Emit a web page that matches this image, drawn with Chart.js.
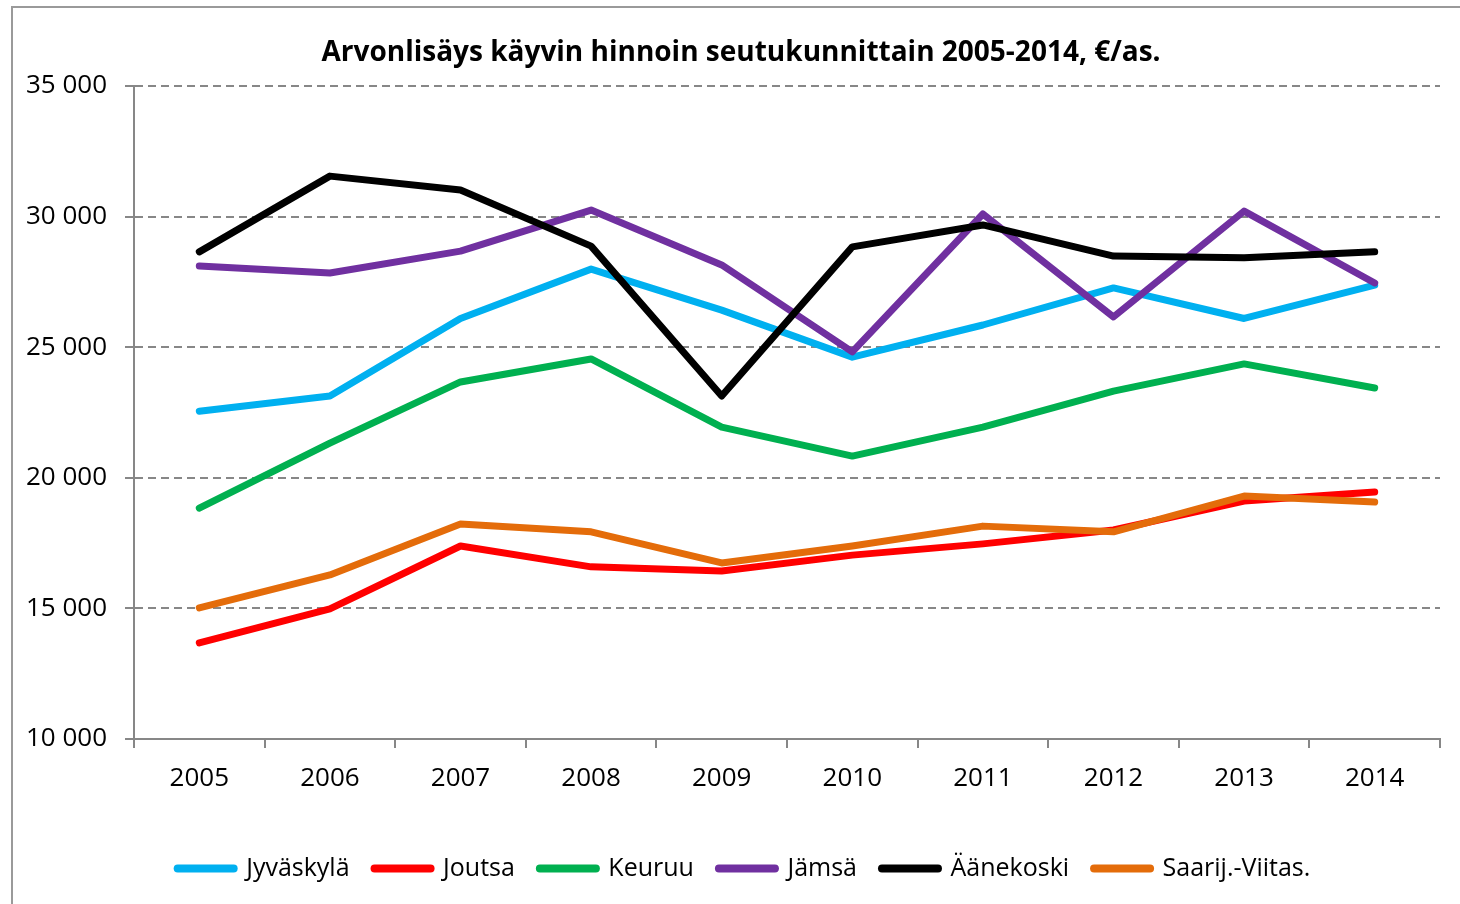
<!DOCTYPE html>
<html>
<head>
<meta charset="utf-8">
<script src="https://cdn.jsdelivr.net/npm/chart.js@4"></script>
<style>
  html, body { margin: 0; padding: 0; background: #fff; }
  #wrap { position: relative; width: 1460px; height: 904px; overflow: hidden; }
  #frame { position: absolute; left: 11px; top: 6px; width: 1500px; height: 950px;
           border-left: 2px solid #9a9a9a; border-top: 2px solid #9a9a9a; }
  canvas { position: absolute; left: 0; top: 0; }
</style>
</head>
<body>
<div id="wrap">
  <div id="frame"></div>
  <canvas id="chart_div" width="1460" height="904"></canvas>
</div>
<script>
// vuodet ja seutukuntien arvot (€/as.)
const vuodet = ['2005','2006','2007','2008','2009','2010','2011','2012','2013','2014'];
const jyvaskyla = [22550, 23130, 26100, 27990, 26420, 24620, 25850, 27270, 26100, 27380];
const joutsa    = [13680, 14980, 17390, 16590, 16430, 17040, 17470, 18000, 19110, 19460];
const keuruu    = [18840, 21330, 23670, 24550, 21940, 20830, 21940, 23320, 24360, 23440];
const jamsa     = [28110, 27840, 28680, 30250, 28150, 24820, 30100, 26160, 30210, 27460];
const aanekoski = [28650, 31550, 31020, 28870, 23130, 28840, 29680, 28490, 28420, 28650];
const saarij    = [15020, 16280, 18230, 17930, 16740, 17390, 18150, 17930, 19300, 19070];
const yTicks = [10000, 15000, 20000, 25000, 30000, 35000];

const sarjat = [
  ['Jyväskylä', jyvaskyla, '#00b0f0'],
  ['Joutsa', joutsa, '#ff0000'],
  ['Keuruu', keuruu, '#00b050'],
  ['Jämsä', jamsa, '#7030a0'],
  ['Äänekoski', aanekoski, '#000000'],
  ['Saarij.-Viitas.', saarij, '#e46c0a']
];

const fontti = '"Open Sans", sans-serif';
const harmaa = '#878787';

// excel piirtaa viimeisen sarjan paalle, joten order kaannetaan
const datasets = sarjat.map(function(s, i){
  return {
    label: s[0], data: s[1], borderColor: s[2], backgroundColor: s[2],
    borderWidth: 7, pointRadius: 0, tension: 0,
    borderCapStyle: 'round', borderJoinStyle: 'round',
    order: sarjat.length - i
  };
});

function muotoile(v){
  return String(v).replace(/\B(?=(\d{3})+(?!\d))/g, ' ');
}

// otsikko ja selite hieman oikealle, kuten alkuperaisessa kuvassa
const siirto = {
  id: 'siirto',
  afterLayout: function(chart){
    if (chart.legend) { chart.legend.left += 24; chart.legend.right += 24; }
    if (chart.titleBlock) { chart.titleBlock.left += 21; chart.titleBlock.right += 21; }
  }
};

new Chart(document.getElementById('chart_div'), {
  type: 'line',
  data: { labels: vuodet, datasets: datasets },
  plugins: [siirto],
  options: {
    responsive: false,
    animation: false,
    layout: { padding: { left: 0, right: 20, top: 0, bottom: 13 } },
    plugins: {
      tooltip: { enabled: false },
      title: {
        display: true,
        text: 'Arvonlisäys käyvin hinnoin seutukunnittain 2005-2014, €/as.',
        color: '#000',
        font: { family: fontti, size: 28, weight: 'bold' },
        padding: { top: 36, bottom: 16.4 }
      },
      legend: {
        position: 'bottom',
        labels: {
          usePointStyle: true,
          pointStyle: 'line',
          pointStyleWidth: 56,
          color: '#000',
          font: { family: fontti, size: 25 },
          padding: 25,
          sort: function(a, b){ return a.datasetIndex - b.datasetIndex; },
          generateLabels: function(chart){
            const items = Chart.defaults.plugins.legend.labels.generateLabels(chart);
            items.forEach(function(it){ it.lineWidth = 8; it.lineCap = 'round'; });
            return items;
          }
        }
      }
    },
    scales: {
      x: {
        offset: true,
        afterFit: function(scale){ scale.height = 92; },
        grid: { offset: true, drawOnChartArea: false, drawTicks: true, tickLength: 9,
                color: harmaa, lineWidth: 2 },
        border: { color: harmaa, width: 2 },
        ticks: { color: '#000', font: { family: fontti, size: 26 }, padding: 15, maxRotation: 0 }
      },
      y: {
        min: 10000, max: 35000,
        afterFit: function(scale){ scale.width = 134; },
        afterBuildTicks: function(scale){ scale.ticks = yTicks.map(function(v){ return {value: v}; }); },
        grid: { color: harmaa, lineWidth: 2, tickLength: 9 },
        border: { color: harmaa, width: 2, dash: [8, 5] },
        ticks: { color: '#000', font: { family: fontti, size: 26 }, padding: 18,
                 callback: function(v){ return muotoile(v); } }
      }
    }
  }
});
</script>
</body>
</html>
